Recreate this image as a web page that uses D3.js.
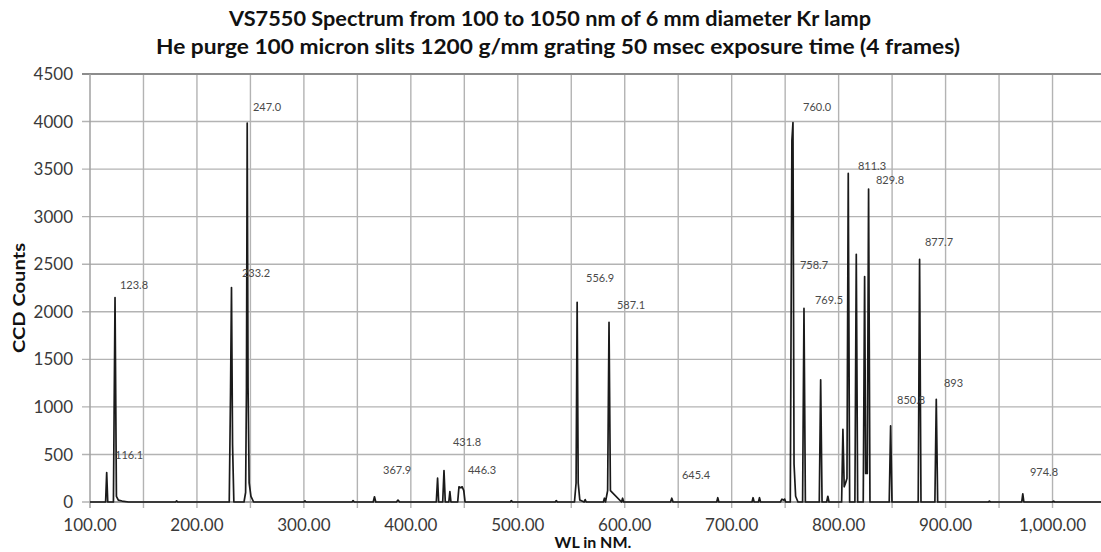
<!DOCTYPE html>
<html>
<head>
<meta charset="utf-8">
<script src="https://cdn.jsdelivr.net/npm/d3@7"></script>
<style>
  body { margin: 0; background: #fff; }
  text { font-family: Lato, "Open Sans", sans-serif; }
</style>
</head>
<body>
<div id="container"></div>
<script>
// spectrum (nm, CCD counts)
var wavelength = [100, 108, 114.6, 115.6, 116.6, 121.9, 123.4, 124.7, 126.5, 130, 136,
  180, 181, 182, 230.2, 231.4, 232.3, 233.3, 234.5, 244, 245.5, 246.3, 247, 247.8, 248.8, 250.5, 253,
  300, 301, 302, 345, 346, 347, 364.8, 366, 367.2, 386.5, 388, 389.5,
  423.8, 425, 426, 429.8, 431, 432.2, 435.5, 436.5, 437.5, 443.8, 445, 446.5, 448, 449.5, 450.7,
  493, 494, 495, 535, 536, 537, 553, 554.5, 555.5, 556.5, 558, 562, 563, 564,
  580, 581, 582, 584, 585.3, 586.6, 597, 598, 599, 642.8, 644, 645.2, 686, 687, 688,
  719, 720, 721, 725, 726, 727, 745.5, 747, 748.5, 749.5, 750.5,
  754.8, 756.3, 757.3, 758.3, 759.8, 762, 766.3, 767.6, 768.9, 771,
  781.9, 783.2, 784.5, 788.8, 789.9, 791, 802.8, 804, 805.2, 806.5, 807.8, 809, 810.3,
  815.2, 816.5, 817.8, 823, 824.3, 825.3, 826.8, 828, 829.3, 831,
  847.3, 848.6, 849.9, 874.4, 875.7, 877, 890, 891.3, 892.6,
  940, 941, 942, 971.2, 972.2, 973.2, 1000, 1001, 1002, 1050];

var counts = [0, 0, 0, 310, 0, 0, 2150, 60, 20, 10, 0,
  0, 12, 0, 0, 1150, 2255, 600, 0, 0, 100, 1200, 3985, 1200, 200, 60, 0,
  0, 12, 0, 0, 15, 0, 0, 55, 0, 0, 20, 0,
  0, 250, 0, 0, 330, 0, 0, 110, 0, 0, 160, 150, 160, 120, 0,
  0, 15, 0, 0, 15, 0, 0, 200, 2100, 200, 20, 0, 25, 0,
  0, 40, 0, 120, 1890, 120, 0, 40, 0, 0, 40, 0, 0, 45, 0,
  0, 45, 0, 0, 45, 0, 0, 30, 20, 30, 0,
  0, 3800, 3990, 400, 60, 0, 0, 2035, 0, 0,
  0, 1285, 0, 0, 60, 0, 0, 765, 160, 200, 250, 3455, 0,
  0, 2605, 0, 0, 2370, 300, 300, 3290, 0, 0,
  0, 800, 0, 0, 2550, 0, 0, 1080, 0,
  0, 10, 0, 0, 85, 0, 0, 10, 0, 0];

// peak labels, anchored in data space (nm, counts)
var labelText = ["116.1", "123.8", "233.2", "247.0", "367.9", "431.8", "446.3", "556.9", "587.1",
  "645.4", "760.0", "758.7", "769.5", "811.3", "829.8", "850.8", "877.7", "893", "974.8"];
var labelNm = [123.4, 128.0, 242.1, 252.4, 374.0, 439.4, 453.4, 563.8, 592.7,
  653.5, 766.7, 763.8, 777.9, 818.1, 834.9, 854.6, 880.7, 898.5, 978.9];
var labelCounts = [452, 2240, 2366, 4111, 294, 589, 294, 2313, 2029,
  242, 4111, 2450, 2082, 3491, 3343, 1030, 2692, 1209, 273];

var yTicks = [0, 500, 1000, 1500, 2000, 2500, 3000, 3500, 4000, 4500];
var xTicks = [100, 200, 300, 400, 500, 600, 700, 800, 900, 1000];
var xGrid = d3.range(150, 1051, 50);

var titleLines = ["VS7550 Spectrum from 100 to 1050 nm of 6 mm diameter Kr lamp",
  "He purge 100 micron slits 1200 g/mm grating 50 msec exposure time (4 frames)"];

var width = 1101, height = 552;

var svg = d3.select("#container").append("svg")
    .attr("width", width)
    .attr("height", height);

var x = d3.scaleLinear().domain([100, 1050]).range([90, 1106]);
var y = d3.scaleLinear().domain([0, 4500]).range([502, 74]);

// grid
svg.append("g")
  .selectAll("line")
  .data(xGrid)
  .enter().append("line")
    .attr("x1", d => x(d)).attr("x2", d => x(d))
    .attr("y1", y(4500)).attr("y2", y(0) + 6)
    .style("stroke", "#b3b3b3")
    .style("stroke-width", 1.4);

svg.append("g")
  .selectAll("line")
  .data(yTicks)
  .enter().append("line")
    .attr("x1", x(100) - 8).attr("x2", width)
    .attr("y1", d => y(d)).attr("y2", d => y(d))
    .style("stroke", d => d == 4500 ? "#8c8c8c" : "#b3b3b3")
    .style("stroke-width", d => d == 4500 ? 2.2 : 1.4);

// axes lines
svg.append("line")
  .attr("x1", x(100)).attr("x2", x(100))
  .attr("y1", y(4500)).attr("y2", y(0) + 6)
  .style("stroke", "#a0a0a0").style("stroke-width", 1.5);
svg.append("line")
  .attr("x1", x(100)).attr("x2", width)
  .attr("y1", y(0)).attr("y2", y(0))
  .style("stroke", "#909090").style("stroke-width", 1.5);

// tick labels
svg.append("g")
  .selectAll("text")
  .data(yTicks)
  .enter().append("text")
    .attr("x", 73)
    .attr("y", d => y(d))
    .attr("dy", "0.36em")
    .attr("text-anchor", "end")
    .style("font-size", "17px")
    .style("fill", "#3a3a3a")
    .text(d => d);

var fmt = d3.format(",.2f");
svg.append("g")
  .selectAll("text")
  .data(xTicks)
  .enter().append("text")
    .attr("x", d => x(d))
    .attr("y", 531)
    .attr("text-anchor", "middle")
    .style("font-size", "17px")
    .style("fill", "#3a3a3a")
    .text(d => fmt(d));

// spectrum line
var pts = wavelength.map((w, i) => [w, counts[i]]);
var line = d3.line()
  .x(d => x(d[0]))
  .y(d => y(d[1]));

svg.append("path")
  .datum(pts)
  .attr("d", line)
  .style("fill", "none")
  .style("stroke", "#1a1a1a")
  .style("stroke-width", 1.7)
  .style("stroke-linejoin", "round");

// peak labels
svg.append("g")
  .selectAll("text")
  .data(labelText)
  .enter().append("text")
    .attr("x", (d, i) => x(labelNm[i]))
    .attr("y", (d, i) => y(labelCounts[i]))
    .style("font-size", "11px")
    .style("fill", "#4a4a4a")
    .text(d => d);

// titles
var titleWidths = [642, 804];
svg.append("g")
  .selectAll("text")
  .data(titleLines)
  .enter().append("text")
    .attr("x", (d, i) => i == 0 ? 550 : 558)
    .attr("y", (d, i) => 26 + i * 28)
    .attr("text-anchor", "middle")
    .attr("textLength", (d, i) => titleWidths[i])
    .attr("lengthAdjust", "spacingAndGlyphs")
    .style("font-size", "21px")
    .style("font-weight", "bold")
    .style("fill", "#111")
    .text(d => d);

svg.append("text")
  .attr("transform", "translate(25," + 298 + ") rotate(-90)")
  .attr("text-anchor", "middle")
  .attr("textLength", 110)
  .attr("lengthAdjust", "spacingAndGlyphs")
  .style("font-size", "17px")
  .style("font-weight", "bold")
  .style("fill", "#111")
  .text("CCD Counts");

svg.append("text")
  .attr("x", 593)
  .attr("y", 548)
  .attr("text-anchor", "middle")
  .style("font-size", "16px")
  .style("font-weight", "bold")
  .style("fill", "#111")
  .text("WL in NM.");
</script>
</body>
</html>
